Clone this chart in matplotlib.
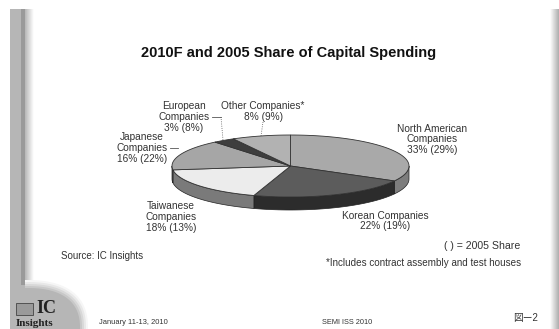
import numpy as np
import matplotlib
matplotlib.use('Agg')
import matplotlib.pyplot as plt
from matplotlib.patches import Rectangle

plt.rcParams['font.family'] = ['Liberation Sans', 'Noto Sans CJK JP', 'DejaVu Sans']

companies = ['North American', 'Korean', 'Taiwanese', 'Japanese', 'European', 'Other']
share_2010 = [33, 22, 18, 16, 3, 8]
share_2005 = [29, 19, 13, 22, 8, 9]
top_colors = ['#a9a9a9', '#5c5c5c', '#ececec', '#a6a6a6', '#3e3e3e', '#b2b2b2']
side_colors = ['#7d7d7d', '#2c2c2c', '#7a7a7a', '#6e6e6e', '#2c2c2c', '#7d7d7d']

# ellipse of the pie top, in pixels
cx, cy = 290.5, 166
rx, ry = 118.5, 31
depth = 13


def arc(a0, a1, n=60):
    t = np.radians(np.linspace(a0, a1, n))
    return cx + rx * np.cos(t), cy - ry * np.sin(t)


def hfade(x0, x1, y0, y1, c0, c1):
    # horizontal grey ramp between two levels
    ramp = np.linspace(c0, c1, 32).reshape(1, -1)
    ax.imshow(ramp, extent=(x0, x1, y1, y0), cmap='gray', vmin=0, vmax=1, aspect='auto', zorder=1)


fig = plt.figure(figsize=(5.59, 3.29), dpi=100)
ax = fig.add_axes([0, 0, 1, 1])
ax.axis('off')

# slide frame on the left and its shadow
ax.add_patch(Rectangle((10, 9), 11, 300, color='#b6b6b6', lw=0, zorder=2))
ax.add_patch(Rectangle((21, 9), 4, 282, color='#9a9a9a', lw=0, zorder=2))
hfade(25, 34, 9, 290, 0.72, 1)

# rounded corner behind the logo, fading outwards
for grow, level in zip([8, 6, 4, 2, 0], ['#f6f6f6', '#e8e8e8', '#d8d8d8', '#c8c8c8', '#b6b6b6']):
    t = np.radians(np.linspace(0, 90, 40))
    ex = 25 + (55 + grow) * np.cos(t) ** 0.8
    ey = 329 - (41 + grow) * np.sin(t) ** 0.8
    ax.fill(np.r_[25, ex], np.r_[329, ey], color=level, lw=0, zorder=2)
ax.add_patch(Rectangle((10, 285), 15, 44, color='#b6b6b6', lw=0, zorder=2))

# right edge of the slide
hfade(550, 559, 9, 329, 1, 0.68)

ax.set_xlim(0, 559)
ax.set_ylim(329, 0)

# pie side wall first, then the top face
angles = 90 - np.cumsum([0] + share_2010) * 3.6
for i in range(len(companies)):
    lo, hi = max(angles[i + 1], -180), min(angles[i], 0)
    if lo < hi:
        x, y = arc(hi, lo)
        ax.fill(np.r_[x, x[::-1]], np.r_[y, y[::-1] + depth], color=side_colors[i],
                ec='#222222', lw=0.5, zorder=3)
for i in range(len(companies)):
    x, y = arc(angles[i], angles[i + 1])
    ax.fill(np.r_[cx, x], np.r_[cy, y], color=top_colors[i], ec='#333333', lw=0.6, zorder=4)

# title and labels
ax.text(288.5, 52.5, '2010F and 2005 Share of Capital Spending', ha='center', va='center',
        fontsize=10.5, fontweight='bold', color='#111111')
lab = dict(ha='center', va='center', fontsize=7.3, color='#333333', linespacing=1.07)
ax.text(184, 117, 'European\nCompanies\n3% (8%)', **lab)
ax.text(263, 111.5, 'Other Companies*\n8% (9%)', **lab)
ax.text(142, 148, 'Japanese\nCompanies\n16% (22%)', **lab)
ax.text(432, 139.5, 'North American\nCompanies\n33% (29%)', **lab)
ax.text(171, 217, 'Taiwanese\nCompanies\n18% (13%)', **lab)
ax.text(385, 221, 'Korean Companies\n22% (19%)', **lab)

# leader lines
ax.plot([212, 221], [117, 117], color='#555555', lw=0.6, zorder=5)
ax.plot([221, 223], [117, 140], color='#555555', lw=0.6, ls=':', zorder=5)
ax.plot([263, 261], [122, 136], color='#555555', lw=0.6, ls=':', zorder=5)
ax.plot([170, 178], [148, 148], color='#555555', lw=0.6, zorder=5)

ax.text(520, 246, '( ) = 2005 Share', ha='right', va='center', fontsize=7.6, color='#333333')
ax.text(521, 263, '*Includes contract assembly and test houses', ha='right', va='center', fontsize=7.1, color='#333333')
ax.text(61, 256, 'Source: IC Insights', ha='left', va='center', fontsize=7, color='#333333')
ax.text(99, 322, 'January 11-13, 2010', ha='left', va='center', fontsize=5.4, color='#333333')
ax.text(322, 322, 'SEMI ISS 2010', ha='left', va='center', fontsize=5.3, color='#333333')
ax.text(513, 318, '図ー2', ha='left', va='center', fontsize=7, color='#333333')

# logo
ax.add_patch(Rectangle((16, 303), 17, 12, fc='#9a9a9a', ec='#444444', lw=0.6, zorder=5))
ax.text(36, 308.5, 'IC', family='Liberation Serif', fontweight='bold', fontsize=13,
        ha='left', va='center', color='#222222', zorder=5)
ax.text(16, 323.5, 'Insights', family='Liberation Serif', fontweight='bold', fontsize=8,
        ha='left', va='center', color='#222222', zorder=5)

fig.savefig('out.png', dpi=100)
